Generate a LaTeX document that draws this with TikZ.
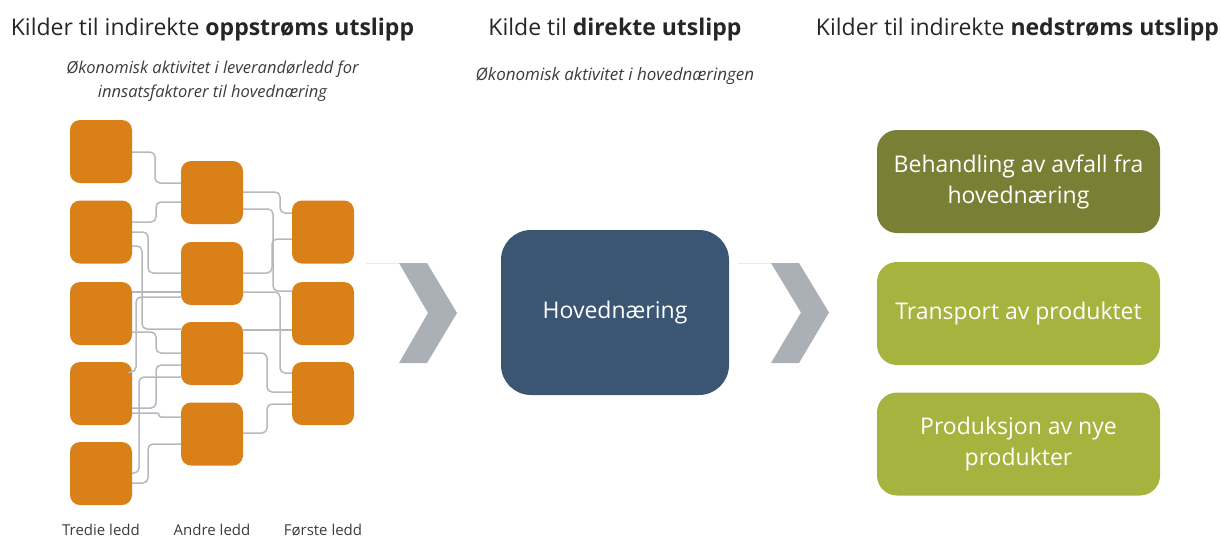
\documentclass[tikz,border=0pt]{standalone}
\usepackage{fontspec}
\setmainfont{Open Sans}
\definecolor{orng}{RGB}{217,128,25}
\definecolor{connc}{RGB}{180,185,190}
\definecolor{chev}{RGB}{170,176,182}
\definecolor{hoved}{RGB}{58,86,115}
\definecolor{oliveD}{RGB}{122,127,54}
\definecolor{oliveL}{RGB}{166,180,63}
\definecolor{txt}{RGB}{38,38,38}
\definecolor{subtxt}{RGB}{60,60,60}
\newcommand\lnk[6][]{\draw[conn,#1] (#2.east |- 0,#3) -- (#4,#3) -- (#4,#5) -- (#6.west |- 0,#5);}
\begin{document}
\begin{tikzpicture}[x=1pt,y=-1pt,
  obox/.style={fill=orng,rounded corners=10pt,minimum width=62pt,minimum height=63pt,inner sep=0pt},
  conn/.style={draw=connc,line width=1.5pt,rounded corners=5pt},
  rbox/.style={rounded corners=20pt,minimum width=283pt,minimum height=103pt,inner sep=0pt,text=white,align=center,font=\fontsize{23}{31}\selectfont},
  title/.style={anchor=base,text=txt,font=\fontsize{23}{27}\selectfont,inner sep=0pt},
  sub/.style={anchor=base,text=subtxt,align=center,font=\fontsize{16.5}{24}\selectfont\itshape,inner sep=0pt},
  lbl/.style={anchor=base,text=subtxt,font=\fontsize{15}{18}\selectfont,inner sep=0pt}]
\useasboundingbox (0,0) rectangle (1221,539);

% titles
\node[title] (t1) at (212.5,35) {Kilder til indirekte \textbf{oppstrøms utslipp}};
\node[title] (t2) at (615,35) {Kilde til \textbf{direkte utslipp}};
\node[title] (t3) at (1017.5,35) {Kilder til indirekte \textbf{nedstrøms utslipp}};
\node[sub] (s1) at (212.5,97) {Økonomisk aktivitet i leverandørledd for\\innsatsfaktorer til hovednæring};
\node[sub,font=\fontsize{17}{24}\selectfont\itshape] (s2) at (615,80) {Økonomisk aktivitet i hovednæringen};

% orange boxes
\node[obox] (T1) at (101,151.5) {};
\node[obox] (T2) at (101,232) {};
\node[obox] (T3) at (101,313.5) {};
\node[obox] (T4) at (101,393.5) {};
\node[obox] (T5) at (101,473.5) {};
\node[obox] (A1) at (212,192.5) {};
\node[obox] (A2) at (212,273.5) {};
\node[obox] (A3) at (212,353.5) {};
\node[obox] (A4) at (212,434) {};
\node[obox] (F1) at (323,232) {};
\node[obox] (F2) at (323,313.5) {};
\node[obox] (F3) at (323,393.5) {};

% left connectors
\lnk{T1}{152}{155}{183}{A1}
\lnk{T2}{222}{156}{202}{A1}
\lnk{T2}{232}{148}{273}{A2}
\lnk{T2}{246}{142}{329}{A3}
\draw[conn] (T3.east |- 0,292) -- (A2.west |- 0,292);
\lnk{T4}{372}{136}{297}{A2}
\lnk{T3}{332}{156}{353}{A3}
\lnk{T5}{473}{139}{377}{A3}
\lnk{T4}{408}{156}{365}{A3}
\lnk[rounded corners=2pt]{T4}{413}{159}{417}{A4}
\lnk{T5}{483}{148}{444}{A4}

% right connectors
\lnk{A1}{192}{280}{213}{F1}
\lnk{A1}{209}{273}{291}{F2}
\lnk{A2}{273}{272}{239}{F1}
\lnk{A2}{292}{280}{373}{F3}
\draw[conn] (A3.east |- 0,330) -- (F2.west |- 0,330);
\lnk{A3}{353}{267}{392}{F3}
\lnk{A4}{433}{267}{404}{F3}

% labels
\node[lbl] (l1) at (101,535) {Tredie ledd};
\node[lbl] (l2) at (212,535) {Andre ledd};
\node[lbl] (l3) at (323,535) {Første ledd};

% chevrons
\draw[draw=chev!25,line width=0.6pt] (366,263) -- (399,263);
\fill[chev] (399,263) -- (427,263) -- (457,313) -- (427,363) -- (399,363) -- (428,313) -- cycle;
\draw[draw=chev!25,line width=0.6pt] (738,263) -- (771,263);
\fill[chev] (771,263) -- (799,263) -- (829,312.5) -- (799,363) -- (771,363) -- (801,312.5) -- cycle;

% main box
\node[fill=hoved,rounded corners=30pt,minimum width=228pt,minimum height=165pt,inner sep=0pt,text=white,font=\fontsize{23}{31}\selectfont] (H) at (615,312.5) {Hovednæring};

% right boxes
\node[rbox,fill=oliveD] (R1) at (1018.5,181.5) {Behandling av avfall fra\\hovednæring};
\node[rbox,fill=oliveL] (R2) at (1018.5,313.5) {Transport av produktet};
\node[rbox,fill=oliveL] (R3) at (1018.5,444) {Produksjon av nye\\produkter};
\end{tikzpicture}
\end{document}
